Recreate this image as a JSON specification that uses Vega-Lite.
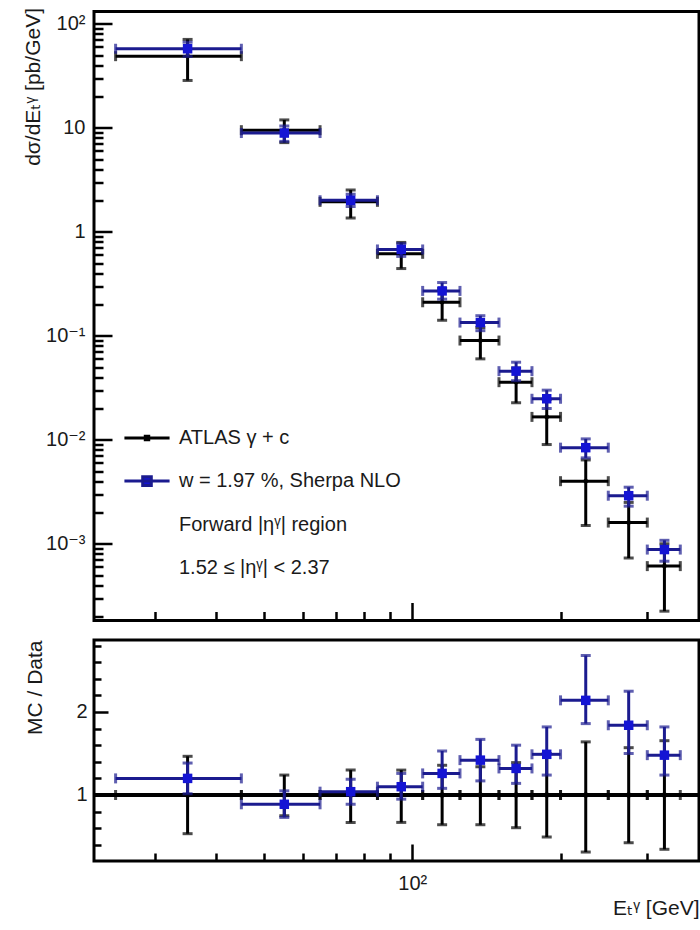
{
  "$schema": "https://vega.github.io/schema/vega-lite/v6.json",
  "background": "white",
  "autosize": {"type": "pad"},
  "padding": {"left": 20, "top": 5.5, "right": 0, "bottom": 0},
  "datasets": {
    "bins": [
      {"xlo": 25, "xhi": 45, "xc": 35, "d": 48.8, "dlo": 28.5, "dhi": 70.7, "m": 57.5, "mlo": 48.5, "mhi": 66.5, "r": 1.2, "rlo": 1.015, "rhi": 1.385, "drlo": 0.534, "drhi": 1.466},
      {"xlo": 45, "xhi": 65, "xc": 55, "d": 9.48, "dlo": 7.2, "dhi": 11.9, "m": 8.9, "mlo": 7.4, "mhi": 10.4, "r": 0.888, "rlo": 0.73, "rhi": 1.05, "drlo": 0.75, "drhi": 1.24},
      {"xlo": 65, "xhi": 85, "xc": 75, "d": 1.94, "dlo": 1.36, "dhi": 2.52, "m": 2.01, "mlo": 1.75, "mhi": 2.3, "r": 1.04, "rlo": 0.89, "rhi": 1.19, "drlo": 0.67, "drhi": 1.3},
      {"xlo": 85, "xhi": 105, "xc": 95, "d": 0.614, "dlo": 0.443, "dhi": 0.79, "m": 0.676, "mlo": 0.58, "mhi": 0.77, "r": 1.1, "rlo": 0.95, "rhi": 1.26, "drlo": 0.67, "drhi": 1.3},
      {"xlo": 105, "xhi": 125, "xc": 115, "d": 0.21, "dlo": 0.141, "dhi": 0.285, "m": 0.27, "mlo": 0.225, "mhi": 0.325, "r": 1.26, "rlo": 1.08, "rhi": 1.53, "drlo": 0.642, "drhi": 1.358},
      {"xlo": 125, "xhi": 150, "xc": 137.5, "d": 0.09, "dlo": 0.06, "dhi": 0.12, "m": 0.134, "mlo": 0.112, "mhi": 0.156, "r": 1.42, "rlo": 1.17, "rhi": 1.67, "drlo": 0.642, "drhi": 1.34},
      {"xlo": 150, "xhi": 175, "xc": 162.5, "d": 0.0358, "dlo": 0.0227, "dhi": 0.049, "m": 0.0457, "mlo": 0.037, "mhi": 0.0557, "r": 1.32, "rlo": 1.14, "rhi": 1.6, "drlo": 0.606, "drhi": 1.39},
      {"xlo": 175, "xhi": 200, "xc": 187.5, "d": 0.0166, "dlo": 0.009, "dhi": 0.0245, "m": 0.0248, "mlo": 0.02, "mhi": 0.03, "r": 1.49, "rlo": 1.24, "rhi": 1.82, "drlo": 0.494, "drhi": 1.5},
      {"xlo": 200, "xhi": 250, "xc": 225, "d": 0.004, "dlo": 0.0015, "dhi": 0.0064, "m": 0.0084, "mlo": 0.0067, "mhi": 0.0102, "r": 2.14, "rlo": 1.86, "rhi": 2.68, "drlo": 0.313, "drhi": 1.64},
      {"xlo": 250, "xhi": 300, "xc": 275, "d": 0.0016, "dlo": 0.00073, "dhi": 0.0025, "m": 0.0029, "mlo": 0.0023, "mhi": 0.0035, "r": 1.84, "rlo": 1.5, "rhi": 2.25, "drlo": 0.425, "drhi": 1.57},
      {"xlo": 300, "xhi": 350, "xc": 325, "d": 0.00061, "dlo": 0.000225, "dhi": 0.001, "m": 0.00088, "mlo": 0.00068, "mhi": 0.00108, "r": 1.48, "rlo": 1.24, "rhi": 1.82, "drlo": 0.346, "drhi": 1.654}
    ]
  },
  "spacing": 14.5,
  "resolve": {"scale": {"fill": "independent", "stroke": "independent", "shape": "independent"}},
  "vconcat": [
    {
      "width": 605,
      "height": 609,
      "data": {"name": "bins"},
      "resolve": {"axis": {"x": "independent", "y": "independent"}},
      "layer": [
        {
          "mark": {"type": "rule", "color": "black", "strokeWidth": 3},
          "encoding": {
            "x": {"field": "xlo", "type": "quantitative", "scale": {"type": "log", "domain": [22.6, 382], "nice": false},
              "axis": {"orient": "bottom", "values": [30, 40, 50, 60, 70, 80, 90, 100, 200, 300], "labels": false, "title": null, "domain": false,
                "tickSize": {"condition": {"test": "datum.value == 100", "value": -18}, "value": -9}}},
            "x2": {"field": "xhi"},
            "y": {"field": "d", "type": "quantitative", "scale": {"type": "log", "domain": [0.000183, 131.2], "nice": false},
              "axis": {"orient": "left", "values": [0.001, 0.01, 0.1, 1, 10, 100], "ticks": false, "domain": false,
                "labelExpr": "datum.value >= 99 ? '10²' : datum.value >= 9 ? '10' : datum.value >= 0.9 ? '1' : datum.value >= 0.09 ? '10⁻¹' : datum.value >= 0.009 ? '10⁻²' : '10⁻³'",
                "labelPadding": 9, "title": "dσ/dEₜᵞ [pb/GeV]", "titleX": -61, "titleY": -4, "titleAngle": 270, "titleAlign": "right", "titleBaseline": "middle", "titleFontSize": 21}}
          }
        },
        {
          "mark": {"type": "rule", "color": "black", "strokeWidth": 3},
          "encoding": {
            "x": {"field": "xc", "type": "quantitative", "scale": {"type": "log", "domain": [22.6, 382], "nice": false}, "axis": null},
            "y": {"field": "dlo", "type": "quantitative", "scale": {"type": "log", "domain": [0.000183, 131.2], "nice": false},
              "axis": {"orient": "left", "labels": false, "domain": false, "title": null,
                "values": [0.0002, 0.0003, 0.0004, 0.0005, 0.0006, 0.0007, 0.0008, 0.0009, 0.001, 0.002, 0.003, 0.004, 0.005, 0.006, 0.007, 0.008, 0.009, 0.01, 0.02, 0.03, 0.04, 0.05, 0.06, 0.07, 0.08, 0.09, 0.1, 0.2, 0.3, 0.4, 0.5, 0.6, 0.7, 0.8, 0.9, 1, 2, 3, 4, 5, 6, 7, 8, 9, 10, 20, 30, 40, 50, 60, 70, 80, 90, 100],
                "tickSize": {"condition": {"test": "indexof([0.001, 0.01, 0.1, 1, 10, 100], datum.value) >= 0", "value": -18}, "value": -9}}},
            "y2": {"field": "dhi"}
          }
        },
        {
          "transform": [{"fold": ["xlo", "xhi"], "as": ["k", "xe"]}],
          "mark": {"type": "tick", "orient": "vertical", "color": "black", "size": 10, "thickness": 3},
          "encoding": {
            "x": {"field": "xe", "type": "quantitative", "scale": {"type": "log", "domain": [22.6, 382], "nice": false}, "axis": null},
            "y": {"field": "d", "type": "quantitative", "scale": {"type": "log", "domain": [0.000183, 131.2], "nice": false}, "axis": null}
          }
        },
        {
          "transform": [{"fold": ["dlo", "dhi"], "as": ["k", "ye"]}],
          "mark": {"type": "tick", "orient": "horizontal", "color": "black", "size": 10, "thickness": 3},
          "encoding": {
            "x": {"field": "xc", "type": "quantitative", "scale": {"type": "log", "domain": [22.6, 382], "nice": false}, "axis": null},
            "y": {"field": "ye", "type": "quantitative", "scale": {"type": "log", "domain": [0.000183, 131.2], "nice": false}, "axis": null}
          }
        },
        {
          "mark": {"type": "point", "shape": "circle", "filled": true, "color": "black", "size": 22, "opacity": 1},
          "encoding": {
            "x": {"field": "xc", "type": "quantitative", "scale": {"type": "log", "domain": [22.6, 382], "nice": false}, "axis": null},
            "y": {"field": "d", "type": "quantitative", "scale": {"type": "log", "domain": [0.000183, 131.2], "nice": false}, "axis": null}
          }
        },
        {
          "mark": {"type": "rule", "color": "#1b1b8f", "strokeWidth": 3},
          "encoding": {
            "x": {"field": "xlo", "type": "quantitative", "scale": {"type": "log", "domain": [22.6, 382], "nice": false}, "axis": null},
            "x2": {"field": "xhi"},
            "y": {"field": "m", "type": "quantitative", "scale": {"type": "log", "domain": [0.000183, 131.2], "nice": false}, "axis": null}
          }
        },
        {
          "mark": {"type": "rule", "color": "#1b1b8f", "strokeWidth": 3},
          "encoding": {
            "x": {"field": "xc", "type": "quantitative", "scale": {"type": "log", "domain": [22.6, 382], "nice": false}, "axis": null},
            "y": {"field": "mlo", "type": "quantitative", "scale": {"type": "log", "domain": [0.000183, 131.2], "nice": false}, "axis": null},
            "y2": {"field": "mhi"}
          }
        },
        {
          "transform": [{"fold": ["xlo", "xhi"], "as": ["k", "xe"]}],
          "mark": {"type": "tick", "orient": "vertical", "color": "#1b1b8f", "size": 10, "thickness": 3},
          "encoding": {
            "x": {"field": "xe", "type": "quantitative", "scale": {"type": "log", "domain": [22.6, 382], "nice": false}, "axis": null},
            "y": {"field": "m", "type": "quantitative", "scale": {"type": "log", "domain": [0.000183, 131.2], "nice": false}, "axis": null}
          }
        },
        {
          "transform": [{"fold": ["mlo", "mhi"], "as": ["k", "ye"]}],
          "mark": {"type": "tick", "orient": "horizontal", "color": "#1b1b8f", "size": 10, "thickness": 3},
          "encoding": {
            "x": {"field": "xc", "type": "quantitative", "scale": {"type": "log", "domain": [22.6, 382], "nice": false}, "axis": null},
            "y": {"field": "ye", "type": "quantitative", "scale": {"type": "log", "domain": [0.000183, 131.2], "nice": false}, "axis": null}
          }
        },
        {
          "mark": {"type": "point", "shape": "square", "filled": true, "color": "#1414d4", "size": 90, "opacity": 1},
          "encoding": {
            "x": {"field": "xc", "type": "quantitative", "scale": {"type": "log", "domain": [22.6, 382], "nice": false}, "axis": null},
            "y": {"field": "m", "type": "quantitative", "scale": {"type": "log", "domain": [0.000183, 131.2], "nice": false}, "axis": null}
          }
        },
        {
          "data": {"values": [{"series": "ATLAS γ + c"}]},
          "transform": [{"filter": "false"}],
          "mark": {"type": "point", "filled": true},
          "encoding": {
            "fill": {"field": "series", "type": "nominal",
              "scale": {"domain": ["ATLAS γ + c", "w = 1.97 %, Sherpa NLO", "Forward |ηᵞ| region", "1.52 ≤ |ηᵞ| < 2.37"], "range": ["black", "#1414d4", "transparent", "transparent"]},
              "legend": {"title": null, "orient": "none", "legendX": 30, "legendY": 403.5, "symbolSize": 1849, "symbolStrokeWidth": 3, "symbolOpacity": 1, "labelFontSize": 20, "labelOffset": 9, "rowPadding": 10.1, "padding": 0, "labelLimit": 500}},
            "stroke": {"field": "series", "type": "nominal",
              "scale": {"domain": ["ATLAS γ + c", "w = 1.97 %, Sherpa NLO", "Forward |ηᵞ| region", "1.52 ≤ |ηᵞ| < 2.37"], "range": ["black", "#1b1b8f", "transparent", "transparent"]},
              "legend": {"title": null, "orient": "none", "legendX": 30, "legendY": 403.5, "symbolSize": 1849, "symbolStrokeWidth": 3, "symbolOpacity": 1, "labelFontSize": 20, "labelOffset": 9, "rowPadding": 10.1, "padding": 0, "labelLimit": 500}},
            "shape": {"field": "series", "type": "nominal",
              "scale": {"domain": ["ATLAS γ + c", "w = 1.97 %, Sherpa NLO", "Forward |ηᵞ| region", "1.52 ≤ |ηᵞ| < 2.37"], "range": ["M-1.05,0H1.05M-0.08,-0.08H0.08V0.08H-0.08Z", "M-1.05,0H1.05M-0.2,-0.2H0.2V0.2H-0.2Z", "M-1,0H1", "M-1,0H1"]},
              "legend": {"title": null, "orient": "none", "legendX": 30, "legendY": 403.5, "symbolSize": 1849, "symbolStrokeWidth": 3, "symbolOpacity": 1, "labelFontSize": 20, "labelOffset": 9, "rowPadding": 10.1, "padding": 0, "labelLimit": 500}}
          }
        }
      ]
    },
    {
      "width": 605,
      "height": 221,
      "data": {"name": "bins"},
      "resolve": {"axis": {"x": "independent", "y": "independent"}},
      "layer": [
        {
          "mark": {"type": "rule", "color": "black", "strokeWidth": 3},
          "encoding": {
            "y": {"datum": 1, "type": "quantitative", "scale": {"type": "linear", "domain": [0.205, 2.867], "nice": false, "zero": false}, "axis": null}
          }
        },
        {
          "mark": {"type": "rule", "color": "black", "strokeWidth": 3},
          "encoding": {
            "x": {"field": "xc", "type": "quantitative", "scale": {"type": "log", "domain": [22.6, 382], "nice": false},
              "axis": {"orient": "bottom", "values": [100], "ticks": false, "domain": false, "labelExpr": "'10²'", "labelPadding": 12,
                "title": "Eₜᵞ [GeV]", "titleAnchor": "end", "titleAlign": "right", "titlePadding": 4, "titleFontSize": 21}},
            "y": {"field": "drlo", "type": "quantitative", "scale": {"type": "linear", "domain": [0.205, 2.867], "nice": false, "zero": false},
              "axis": {"orient": "left", "values": [1, 2], "ticks": false, "domain": false, "labelExpr": "datum.value == 1 ? '1' : '2'", "labelPadding": 7,
                "title": "MC / Data", "titleX": -59, "titleY": 0, "titleAngle": 270, "titleAlign": "right", "titleBaseline": "middle", "titleFontSize": 21}},
            "y2": {"field": "drhi"}
          }
        },
        {
          "transform": [{"fold": ["xlo", "xhi"], "as": ["k", "xe"]}],
          "mark": {"type": "tick", "orient": "vertical", "color": "black", "size": 10, "thickness": 3},
          "encoding": {
            "x": {"field": "xe", "type": "quantitative", "scale": {"type": "log", "domain": [22.6, 382], "nice": false},
              "axis": {"orient": "bottom", "values": [30, 40, 50, 60, 70, 80, 90, 100, 200, 300], "labels": false, "title": null, "domain": false,
                "tickSize": {"condition": {"test": "datum.value == 100", "value": -17}, "value": -8}}},
            "y": {"datum": 1, "type": "quantitative", "scale": {"type": "linear", "domain": [0.205, 2.867], "nice": false, "zero": false},
              "axis": {"orient": "left", "values": [0.4, 0.6, 0.8, 1, 1.2, 1.4, 1.6, 1.8, 2, 2.2, 2.4, 2.6, 2.8], "labels": false, "title": null, "domain": false,
                "tickSize": {"condition": {"test": "datum.value == 1 || datum.value == 2", "value": -14}, "value": -7}}}
          }
        },
        {
          "transform": [{"fold": ["drlo", "drhi"], "as": ["k", "ye"]}],
          "mark": {"type": "tick", "orient": "horizontal", "color": "black", "size": 10, "thickness": 3},
          "encoding": {
            "x": {"field": "xc", "type": "quantitative", "scale": {"type": "log", "domain": [22.6, 382], "nice": false}, "axis": null},
            "y": {"field": "ye", "type": "quantitative", "scale": {"type": "linear", "domain": [0.205, 2.867], "nice": false, "zero": false}, "axis": null}
          }
        },
        {
          "mark": {"type": "point", "shape": "circle", "filled": true, "color": "black", "size": 30, "opacity": 1},
          "encoding": {
            "x": {"field": "xc", "type": "quantitative", "scale": {"type": "log", "domain": [22.6, 382], "nice": false}, "axis": null},
            "y": {"datum": 1, "type": "quantitative", "scale": {"type": "linear", "domain": [0.205, 2.867], "nice": false, "zero": false}, "axis": null}
          }
        },
        {
          "mark": {"type": "rule", "color": "#1b1b8f", "strokeWidth": 3},
          "encoding": {
            "x": {"field": "xlo", "type": "quantitative", "scale": {"type": "log", "domain": [22.6, 382], "nice": false}, "axis": null},
            "x2": {"field": "xhi"},
            "y": {"field": "r", "type": "quantitative", "scale": {"type": "linear", "domain": [0.205, 2.867], "nice": false, "zero": false}, "axis": null}
          }
        },
        {
          "mark": {"type": "rule", "color": "#1b1b8f", "strokeWidth": 3},
          "encoding": {
            "x": {"field": "xc", "type": "quantitative", "scale": {"type": "log", "domain": [22.6, 382], "nice": false}, "axis": null},
            "y": {"field": "rlo", "type": "quantitative", "scale": {"type": "linear", "domain": [0.205, 2.867], "nice": false, "zero": false}, "axis": null},
            "y2": {"field": "rhi"}
          }
        },
        {
          "transform": [{"fold": ["xlo", "xhi"], "as": ["k", "xe"]}],
          "mark": {"type": "tick", "orient": "vertical", "color": "#1b1b8f", "size": 10, "thickness": 3},
          "encoding": {
            "x": {"field": "xe", "type": "quantitative", "scale": {"type": "log", "domain": [22.6, 382], "nice": false}, "axis": null},
            "y": {"field": "r", "type": "quantitative", "scale": {"type": "linear", "domain": [0.205, 2.867], "nice": false, "zero": false}, "axis": null}
          }
        },
        {
          "transform": [{"fold": ["rlo", "rhi"], "as": ["k", "ye"]}],
          "mark": {"type": "tick", "orient": "horizontal", "color": "#1b1b8f", "size": 10, "thickness": 3},
          "encoding": {
            "x": {"field": "xc", "type": "quantitative", "scale": {"type": "log", "domain": [22.6, 382], "nice": false}, "axis": null},
            "y": {"field": "ye", "type": "quantitative", "scale": {"type": "linear", "domain": [0.205, 2.867], "nice": false, "zero": false}, "axis": null}
          }
        },
        {
          "mark": {"type": "point", "shape": "square", "filled": true, "color": "#1414d4", "size": 90, "opacity": 1},
          "encoding": {
            "x": {"field": "xc", "type": "quantitative", "scale": {"type": "log", "domain": [22.6, 382], "nice": false}, "axis": null},
            "y": {"field": "r", "type": "quantitative", "scale": {"type": "linear", "domain": [0.205, 2.867], "nice": false, "zero": false}, "axis": null}
          }
        }
      ]
    }
  ],
  "config": {
    "font": "Liberation Sans, DejaVu Sans, sans-serif",
    "view": {"stroke": "black", "strokeWidth": 3},
    "axis": {
      "labelFont": "Liberation Sans, DejaVu Sans, sans-serif",
      "titleFont": "Liberation Sans, DejaVu Sans, sans-serif",
      "labelFontSize": 20,
      "titleFontSize": 21,
      "labelColor": "#1a1a1a",
      "titleColor": "#1a1a1a",
      "titleFontWeight": "normal",
      "grid": false,
      "domain": false,
      "tickColor": "black",
      "tickWidth": 2.5,
      "labelFlush": false,
      "labelOverlap": false
    },
    "legend": {
      "labelFont": "Liberation Sans, DejaVu Sans, sans-serif",
      "labelColor": "#1a1a1a"
    }
  }
}
